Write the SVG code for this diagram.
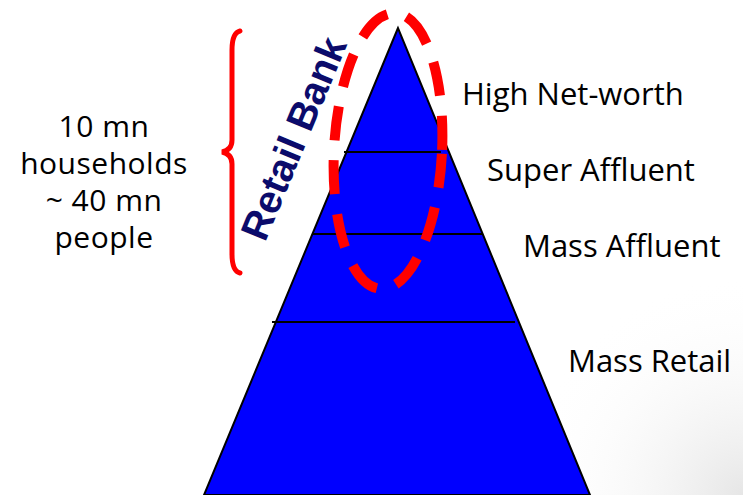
<svg xmlns="http://www.w3.org/2000/svg" width="743" height="495" viewBox="0 0 743 495">
<defs>
<radialGradient id="shade" cx="743" cy="495" r="220" gradientUnits="userSpaceOnUse">
<stop offset="0" stop-color="#e6e6e6"/>
<stop offset="1" stop-color="#ffffff" stop-opacity="0"/>
</radialGradient>
</defs>
<style>
.lbl{font-family:"Open Sans","Liberation Sans",sans-serif;font-size:31px;fill:#000}
.pop{font-size:30px;letter-spacing:0.5px}
.div{stroke:#000;stroke-width:2}
</style>
<rect width="743" height="495" fill="#fff"/>
<rect x="520" y="275" width="223" height="220" fill="url(#shade)"/>
<g id="pyramid">
<polygon points="398,28 204,495 590,495" fill="#0000ff" stroke="#000" stroke-width="2"/>
<line class="div" x1="344" y1="152" x2="441" y2="152"/>
<line class="div" x1="312" y1="234" x2="483" y2="234"/>
<line class="div" x1="272" y1="322" x2="515" y2="322"/>
</g>
<g id="retail-bank-ellipse">
<ellipse cx="388" cy="151" rx="54" ry="138" transform="rotate(3 388 151)" fill="none" stroke="#ff0000" stroke-width="10" stroke-dasharray="34 20"/>
</g>
<g id="retail-bank-label">
<text x="0" y="0" transform="translate(265,243) rotate(-67.5)" font-family="Liberation Sans, Arial, sans-serif" font-weight="bold" font-size="39.5" fill="#0b0b6b">Retail Bank</text>
</g>
<g id="brace">
<path d="M240,31 Q232,33 232,50 L232,140 Q232,150 222,152 Q232,154 232,164 L232,254 Q232,271 240,273" fill="none" stroke="#ff0000" stroke-width="5" stroke-linecap="round"/>
</g>
<g id="population">
<text class="lbl pop" text-anchor="middle" x="104" y="137">10 mn</text>
<text class="lbl pop" text-anchor="middle" x="104" y="174">households</text>
<text class="lbl pop" text-anchor="middle" x="104" y="211">~ 40 mn</text>
<text class="lbl pop" text-anchor="middle" x="104" y="248">people</text>
</g>
<g id="labels">
<text class="lbl" x="462" y="105">High Net-worth</text>
<text class="lbl" x="487" y="181">Super Affluent</text>
<text class="lbl" x="523" y="257">Mass Affluent</text>
<text class="lbl" x="568" y="372">Mass Retail</text>
</g>
</svg>
